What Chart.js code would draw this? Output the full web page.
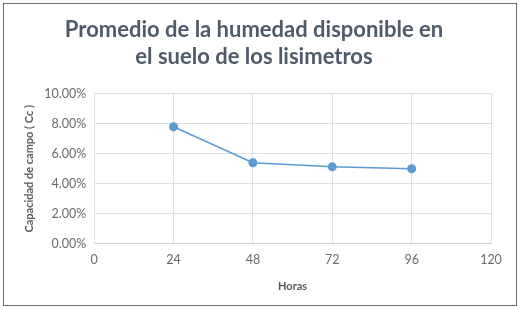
<!DOCTYPE html>
<html>
<head>
<meta charset="utf-8">
<script src="https://cdn.jsdelivr.net/npm/chart.js@4"></script>
<style>
  html, body { margin: 0; padding: 0; background: #fff; }
  #marco { position: absolute; left: 3px; top: 3px; width: 514px; height: 303px; border: 1.5px solid #6b6b6b; box-sizing: border-box; }
  #grafico { position: absolute; left: 0; top: 0; }
</style>
</head>
<body>
<div id="marco"></div>
<canvas id="grafico" width="524" height="310"></canvas>
<script>
// datos
var horas = [24, 48, 72, 96]
var humedad = [0.078, 0.054, 0.0513, 0.050]
var ticksX = [0, 24, 48, 72, 96, 120]
var ticksY = [0, 0.02, 0.04, 0.06, 0.08, 0.10]

var puntos = horas.map(function(h, i){ return {x: h, y: humedad[i]} })

var gris = '#6a6a6a'
var fuente = 'Lato, "Open Sans", sans-serif'

var ctx = document.getElementById('grafico').getContext('2d')
window.miGrafico = new Chart(ctx, {
    type: 'scatter',
    data: {
        datasets: [{
            data: puntos,
            showLine: true,
            borderColor: '#5b9bd5',
            backgroundColor: '#5b9bd5',
            borderWidth: 1.5,
            pointRadius: 4.5,
            pointBorderWidth: 0
        }]
    },
    options: {
        responsive: false,
        animation: false,
        layout: {
            padding: {left: 17, right: 33, top: 17, bottom: 13}
        },
        plugins: {
            legend: {display: false},
            tooltip: {enabled: false},
            title: {
                display: true,
                text: ['Promedio de la humedad disponible en', 'el suelo de los lisimetros'],
                color: '#4f5a6b',
                font: {family: fuente, size: 22, weight: 'bold'},
                lineHeight: 1.37,
                padding: {top: 0, bottom: 24}
            }
        },
        scales: {
            x: {
                type: 'linear',
                min: 0,
                max: 120,
                afterBuildTicks: function(axis){
                    axis.ticks = ticksX.map(function(v){ return {value: v} })
                },
                grid: {color: '#dcdfe4', drawTicks: false},
                border: {color: '#d0d0d0'},
                ticks: {color: gris, font: {family: fuente, size: 12.5}, padding: 9},
                title: {
                    display: true,
                    text: 'Horas',
                    color: '#595959',
                    font: {family: fuente, size: 11, weight: 'bold'},
                    padding: {top: 3}
                }
            },
            y: {
                min: 0,
                max: 0.1,
                afterBuildTicks: function(axis){
                    axis.ticks = ticksY.map(function(v){ return {value: v} })
                },
                grid: {color: '#dcdfe4', drawTicks: false},
                border: {display: false},
                ticks: {
                    color: gris,
                    font: {family: fuente, size: 12.5},
                    padding: 8,
                    callback: function(v){ return (v * 100).toFixed(2) + '%' }
                },
                title: {
                    display: true,
                    text: 'Capacidad de campo ( Cc )',
                    color: '#595959',
                    font: {family: fuente, size: 11, weight: 'bold'},
                    padding: {top: 6, bottom: 0}
                }
            }
        }
    }
})
</script>
</body>
</html>
